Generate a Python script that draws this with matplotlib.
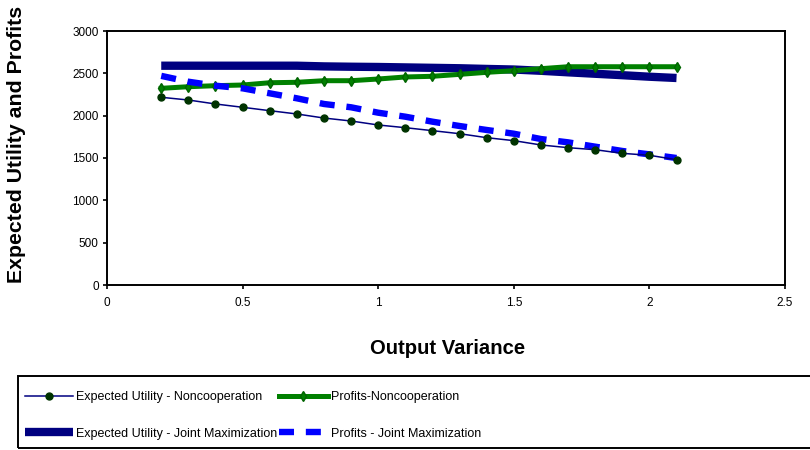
import numpy as np
import matplotlib
matplotlib.use('Agg')
import matplotlib.pyplot as plt
from matplotlib.patches import Rectangle

plt.rcParams['font.family'] = ['Liberation Sans', 'DejaVu Sans']

# output variance grid
variance = [0.2, 0.3, 0.4, 0.5, 0.6, 0.7, 0.8, 0.9, 1.0, 1.1,
            1.2, 1.3, 1.4, 1.5, 1.6, 1.7, 1.8, 1.9, 2.0, 2.1]

eu_noncoop = [2217, 2185, 2138, 2099, 2059, 2020, 1972, 1937, 1890, 1858,
              1823, 1787, 1740, 1705, 1654, 1622, 1598, 1555, 1532, 1480]
profits_noncoop = [2323, 2342, 2354, 2362, 2389, 2394, 2413, 2413, 2433, 2457,
                   2465, 2488, 2512, 2531, 2555, 2578, 2578, 2578, 2578, 2578]
eu_joint = [2590, 2590, 2590, 2590, 2590, 2590, 2582, 2578, 2575, 2570,
            2565, 2560, 2552, 2545, 2530, 2512, 2495, 2478, 2460, 2445]
profits_joint = [2470, 2401, 2354, 2323, 2264, 2205, 2138, 2099, 2035, 1988,
                 1929, 1878, 1831, 1787, 1724, 1685, 1634, 1583, 1543, 1500]

labels = ['Expected Utility - Noncooperation', 'Profits-Noncooperation',
          'Expected Utility - Joint Maximization', 'Profits - Joint Maximization']

fig = plt.figure(figsize=(8.1, 4.5), dpi=100)
ax = fig.add_axes([107 / 810, 1 - 285 / 450, 678 / 810, 254 / 450])

l3, = ax.plot(variance, eu_joint, color='#000080', linewidth=6, solid_capstyle='butt', zorder=2)
l2, = ax.plot(variance, profits_noncoop, color='#008000', linewidth=3.6, marker='d',
              markersize=5.5, markerfacecolor='#008000', markeredgecolor='#006400', zorder=3)
l4, = ax.plot(variance, profits_joint, color='#0000FF', linewidth=4.6,
              dashes=(2.35, 1.85), dash_capstyle='butt', zorder=4)
l1, = ax.plot(variance, eu_noncoop, color='#000080', linewidth=1.1, marker='o',
              markersize=5, markerfacecolor='#003300', markeredgecolor='#003300', zorder=5)

ax.set_xlim(0, 2.5)
ax.set_ylim(0, 3000)
ax.set_xticks([0, 0.5, 1, 1.5, 2, 2.5])
ax.set_xticklabels(['0', '0.5', '1', '1.5', '2', '2.5'])
ax.set_yticks(np.arange(0, 3001, 500))
ax.tick_params(axis='both', labelsize=8.5, length=3, width=1.2, direction='out', pad=3)
ax.tick_params(axis='x', pad=6)
for side in ax.spines.values():
    side.set_linewidth(1.4)
    side.set_color('black')

fig.text(17 / 810, 1 - 144 / 450, 'Expected Utility and Profits', rotation=90,
         ha='center', va='center', fontsize=15.3, fontweight='bold')
fig.text(447.5 / 810, 1 - 348 / 450, 'Output Variance', ha='center', va='center',
         fontsize=14.6, fontweight='bold')

# legend box below the plot
fig.patches.append(Rectangle((18 / 810, 2 / 450), 800 / 810, 72 / 450, transform=fig.transFigure,
                             fill=False, edgecolor='black', linewidth=1.4))
leg = fig.legend([l1, l3, l2, l4], [labels[0], labels[2], labels[1], labels[3]],
                 ncol=2, loc='upper left', bbox_to_anchor=(25 / 810, 1 - 391 / 450),
                 frameon=False, borderpad=0, borderaxespad=0, handlelength=3.85,
                 handletextpad=0.25, columnspacing=0.15, labelspacing=1.98,
                 prop={'size': 9})

fig.savefig('out.png', dpi=100)
